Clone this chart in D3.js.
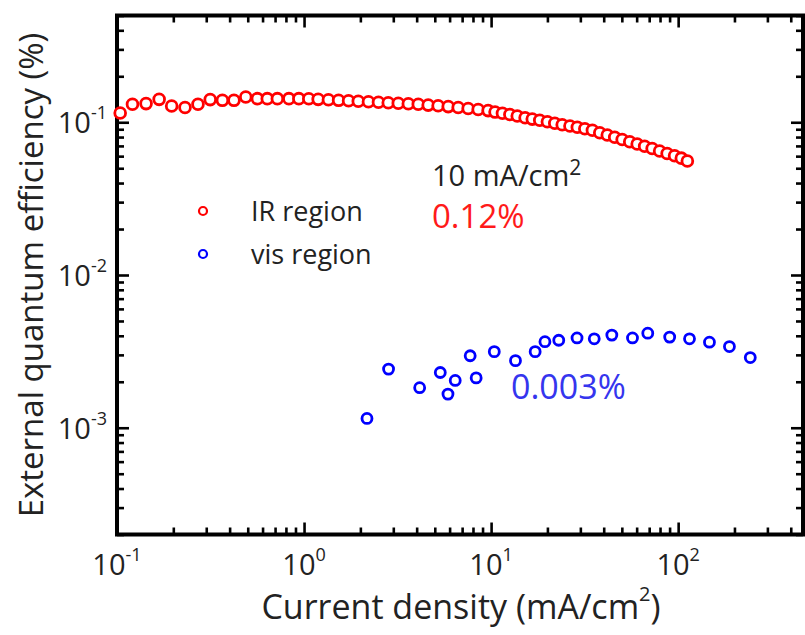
<!DOCTYPE html>
<html lang="en">
<head>
<meta charset="UTF-8">
<title>EQE vs current density</title>
<script src="https://cdn.jsdelivr.net/npm/d3@7"></script>
<style>
  body { margin: 0; background: #fff; }
  text { font-family: "Open Sans", sans-serif; }
</style>
</head>
<body>
<div id="app"></div>
<script>
var width = 805;
var height = 635;
var margin = {left: 117, top: 15.5, right: 2, bottom: 100.5};

// IR region: current density (mA/cm2) and EQE (%)
var irJ = [0.104, 0.121, 0.143, 0.168, 0.196, 0.231, 0.271, 0.315, 0.366, 0.422,
           0.488, 0.563, 0.636, 0.720, 0.830, 0.938, 1.06, 1.19, 1.35, 1.53,
           1.73, 1.95, 2.21, 2.50, 2.82, 3.19, 3.61, 4.08, 4.61, 5.21,
           5.90, 6.67, 7.54, 8.53, 9.64, 10.5, 11.5, 12.6, 13.8, 15.2,
           16.6, 18.2, 20.0, 21.9, 24.0, 26.4, 28.9, 31.7, 34.8, 38.1,
           41.8, 45.8, 50.2, 55.1, 60.4, 66.2, 72.6, 79.6, 87.3, 95.7,
           104, 112];
var irEqe = [0.1150, 0.1311, 0.1325, 0.1413, 0.1278, 0.1248, 0.1311, 0.1407, 0.1392, 0.1392,
             0.1463, 0.1428, 0.1428, 0.1428, 0.1428, 0.1428, 0.1424, 0.1413, 0.1403, 0.1392,
             0.1382, 0.1372, 0.1361, 0.1351, 0.1341, 0.1331, 0.1321, 0.1311, 0.1295, 0.1282,
             0.1266, 0.1249, 0.1231, 0.1212, 0.1192, 0.1166, 0.1145, 0.1124, 0.1098, 0.1070,
             0.1049, 0.1030, 0.1008, 0.0985, 0.0963, 0.0945, 0.0928, 0.0907, 0.0887, 0.0854,
             0.0825, 0.0798, 0.0771, 0.0746, 0.0720, 0.0697, 0.0673, 0.0648, 0.0625, 0.0604,
             0.0582, 0.0558];

// visible region
var visJ = [2.17, 2.83, 4.15, 5.35, 5.88, 6.43, 7.73, 8.32, 10.4, 13.5,
            17.2, 19.4, 23.0, 28.8, 35.6, 44.2, 57.0, 68.8, 90.1, 115,
            147, 188, 243];
var visEqe = [0.00115, 0.00242, 0.00183, 0.00230, 0.00166, 0.00204, 0.00296, 0.00212, 0.00315, 0.00275,
              0.00315, 0.00366, 0.00374, 0.00387, 0.00382, 0.00404, 0.00387, 0.00416, 0.00392, 0.00382,
              0.00363, 0.00340, 0.00288];

var xDecades = [-1, 0, 1, 2];
var yDecades = [-3, -2, -1];

var x0 = margin.left, x1 = width - margin.right;
var y0 = height - margin.bottom, y1 = margin.top;

var x = d3.scaleLog().domain([0.1, 465]).range([x0, x1]);
var y = d3.scaleLog().domain([2e-4, 0.5]).range([y0, y1]);

var svg = d3.select("#app").append("svg")
    .attr("width", width)
    .attr("height", height);

// tick values: minor 2..9 and majors per decade
function logTicks(scale) {
    var d = scale.domain(), minor = [], major = [];
    var lo = Math.floor(Math.log10(d[0])), hi = Math.ceil(Math.log10(d[1]));
    for (var e = lo; e <= hi; e++) {
        for (var m = 1; m < 10; m++) {
            var v = m * Math.pow(10, e);
            if (v < d[0] * 0.999 || v > d[1] * 1.001) continue;
            if (m == 1) major.push(v); else minor.push(v);
        }
    }
    return {minor: minor, major: major};
}
var xt = logTicks(x), yt = logTicks(y);

function drawAxis(axisFn, scale, vals, len, tx, ty) {
    var g = svg.append("g")
        .attr("transform", "translate(" + tx + "," + ty + ")")
        .call(axisFn(scale).tickValues(vals).tickSize(-len).tickFormat(""));
    g.select(".domain").remove();
    g.selectAll(".tick line").attr("stroke", "#000").attr("stroke-width", 2.6);
}
// bottom / top
drawAxis(d3.axisBottom, x, xt.minor, 7, 0, y0);
drawAxis(d3.axisBottom, x, xt.major, 12, 0, y0);
drawAxis(d3.axisTop, x, xt.minor, 7, 0, y1);
drawAxis(d3.axisTop, x, xt.major, 12, 0, y1);
// left / right
drawAxis(d3.axisLeft, y, yt.minor, 7, x0, 0);
drawAxis(d3.axisLeft, y, yt.major, 12, x0, 0);
drawAxis(d3.axisRight, y, yt.minor, 7, x1, 0);
drawAxis(d3.axisRight, y, yt.major, 12, x1, 0);

// frame
svg.append("rect")
    .attr("x", x0).attr("y", y1)
    .attr("width", x1 - x0).attr("height", y0 - y1)
    .attr("fill", "none").attr("stroke", "#000").attr("stroke-width", 4);

// tick labels, 10 with exponent
svg.selectAll(".xlab").data(xDecades).enter().append("text")
    .attr("class", "xlab")
    .attr("x", function (d) { return x(Math.pow(10, d)); })
    .attr("y", 575)
    .attr("text-anchor", "middle")
    .attr("fill", "#222")
    .style("font-size", "29px")
    .each(function (d) {
        var t = d3.select(this);
        t.append("tspan").text("10");
        t.append("tspan").attr("dy", -14).style("font-size", "18px").text(d < 0 ? "-" + (-d) : d);
    });

svg.selectAll(".ylab").data(yDecades).enter().append("text")
    .attr("class", "ylab")
    .attr("x", 107)
    .attr("y", function (d) { return y(Math.pow(10, d)) + 11; })
    .attr("text-anchor", "end")
    .attr("fill", "#222")
    .style("font-size", "29px")
    .each(function (d) {
        var t = d3.select(this);
        t.append("tspan").text("10");
        t.append("tspan").attr("dy", -14).style("font-size", "18px").text("-" + (-d));
    });

// axis titles
var xt_ = svg.append("text")
    .attr("x", 461).attr("y", 619)
    .attr("text-anchor", "middle")
    .attr("fill", "#222")
    .style("font-size", "34px");
xt_.append("tspan").text("Current density (mA/cm");
xt_.append("tspan").attr("dy", -18).style("font-size", "20px").text("2");
xt_.append("tspan").attr("dy", 18).text(")");

svg.append("text")
    .attr("transform", "translate(43,275) rotate(-90)")
    .attr("text-anchor", "middle")
    .attr("fill", "#222")
    .style("font-size", "33px")
    .text("External quantum efficiency (%)");

// data
svg.append("g").selectAll("circle")
    .data(d3.zip(irJ, irEqe))
    .enter().append("circle")
    .attr("cx", function (d) { return x(d[0]); })
    .attr("cy", function (d) { return y(d[1]); })
    .attr("r", 5.4)
    .attr("fill", "#fff")
    .attr("stroke", "#ff0000")
    .attr("stroke-width", 2.8);

svg.append("g").selectAll("circle")
    .data(d3.zip(visJ, visEqe))
    .enter().append("circle")
    .attr("cx", function (d) { return x(d[0]); })
    .attr("cy", function (d) { return y(d[1]); })
    .attr("r", 5)
    .attr("fill", "#fff")
    .attr("stroke", "#0000ff")
    .attr("stroke-width", 2.8);

// legend
var legend = [{name: "IR region", color: "#ff0000", y: 211},
              {name: "vis region", color: "#0000ff", y: 254}];
legend.forEach(function (l) {
    svg.append("circle")
        .attr("cx", 203).attr("cy", l.y).attr("r", 4)
        .attr("fill", "#fff").attr("stroke", l.color).attr("stroke-width", 2.2);
    svg.append("text")
        .attr("x", 251).attr("y", l.y + 10)
        .attr("fill", "#222")
        .style("font-size", "27px")
        .text(l.name);
});

// annotations
var ann = svg.append("text")
    .attr("x", 432).attr("y", 186)
    .attr("fill", "#222")
    .style("font-size", "29px");
ann.append("tspan").text("10 mA/cm");
ann.append("tspan").attr("dy", -11).style("font-size", "21px").text("2");

svg.append("text")
    .attr("x", 432).attr("y", 228)
    .attr("fill", "#ff1a1a")
    .style("font-size", "33px")
    .text("0.12%");

svg.append("text")
    .attr("x", 511).attr("y", 399)
    .attr("fill", "#3535ee")
    .style("font-size", "34px")
    .text("0.003%");
</script>
</body>
</html>
